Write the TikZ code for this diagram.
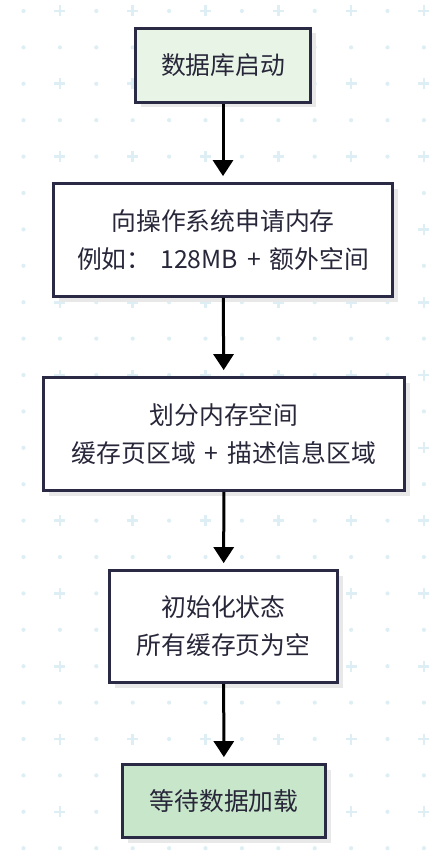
\documentclass[tikz,border=0pt]{standalone}
\usepackage{fontspec}
\setmainfont[WordSpace=1.6]{Noto Sans CJK SC}
\usetikzlibrary{arrows.meta,shadows}
\definecolor{gridc}{HTML}{DDEFF4}
\definecolor{edgec}{HTML}{2B2A44}
\definecolor{startc}{HTML}{E8F4E6}
\definecolor{endc}{HTML}{C8E6C9}
\definecolor{txtc}{HTML}{28273A}
\tikzset{
  procbox/.style={draw=edgec, line width=2.8pt, fill=white, align=center,
    text=txtc, font=\fontsize{24.8pt}{38pt}\selectfont, inner sep=0pt,
    drop shadow={shadow xshift=5pt, shadow yshift=-5pt, fill=black!9, opacity=1}},
  flowarrow/.style={line width=3pt, -{Triangle[width=20pt,length=16pt]}, shorten >=6pt},
  gplus/.style={gridc, line width=2.6pt},
}
\begin{document}
\begin{tikzpicture}[x=1pt,y=1pt]
\useasboundingbox (0,0) rectangle (441,-856);
\fill[white] (0,0) rectangle (441,-856);
% background grid
\foreach \i in {0,...,11}{
  \foreach \j in {0,...,23}{
    \pgfmathsetmacro{\gx}{23.5+36.4*\i}
    \pgfmathsetmacro{\gy}{-(11+36.4*\j)}
    \pgfmathtruncatemacro{\isplus}{(mod(\i,2)==1) && (mod(\j,2)==0)}
    \ifnum\isplus=1
      \draw[gplus] (\gx-5.5,\gy) -- (\gx+5.5,\gy) (\gx,\gy-5.5) -- (\gx,\gy+5.5);
    \else
      \fill[gridc] (\gx,\gy) circle (2.1);
    \fi
  }
}
\node[procbox, fill=startc, minimum width=175, minimum height=74] (n1) at (223,-65.5) {数据库启动};
\node[procbox, minimum width=339, minimum height=113] (n2) at (223,-240) {向操作系统申请内存\\例如： 128MB + 额外空间};
\node[procbox, minimum width=361, minimum height=113] (n3) at (224,-434) {划分内存空间\\缓存页区域 + 描述信息区域};
\node[procbox, minimum width=228, minimum height=112] (n4) at (223.5,-626.5) {初始化状态\\所有缓存页为空};
\node[procbox, fill=endc, minimum width=203, minimum height=73] (n5) at (224,-801) {等待数据加载};
\draw[flowarrow] (n1) -- (n2);
\draw[flowarrow] (n2) -- (n3);
\draw[flowarrow] (n3) -- (n4);
\draw[flowarrow] (n4) -- (n5);
\end{tikzpicture}
\end{document}
